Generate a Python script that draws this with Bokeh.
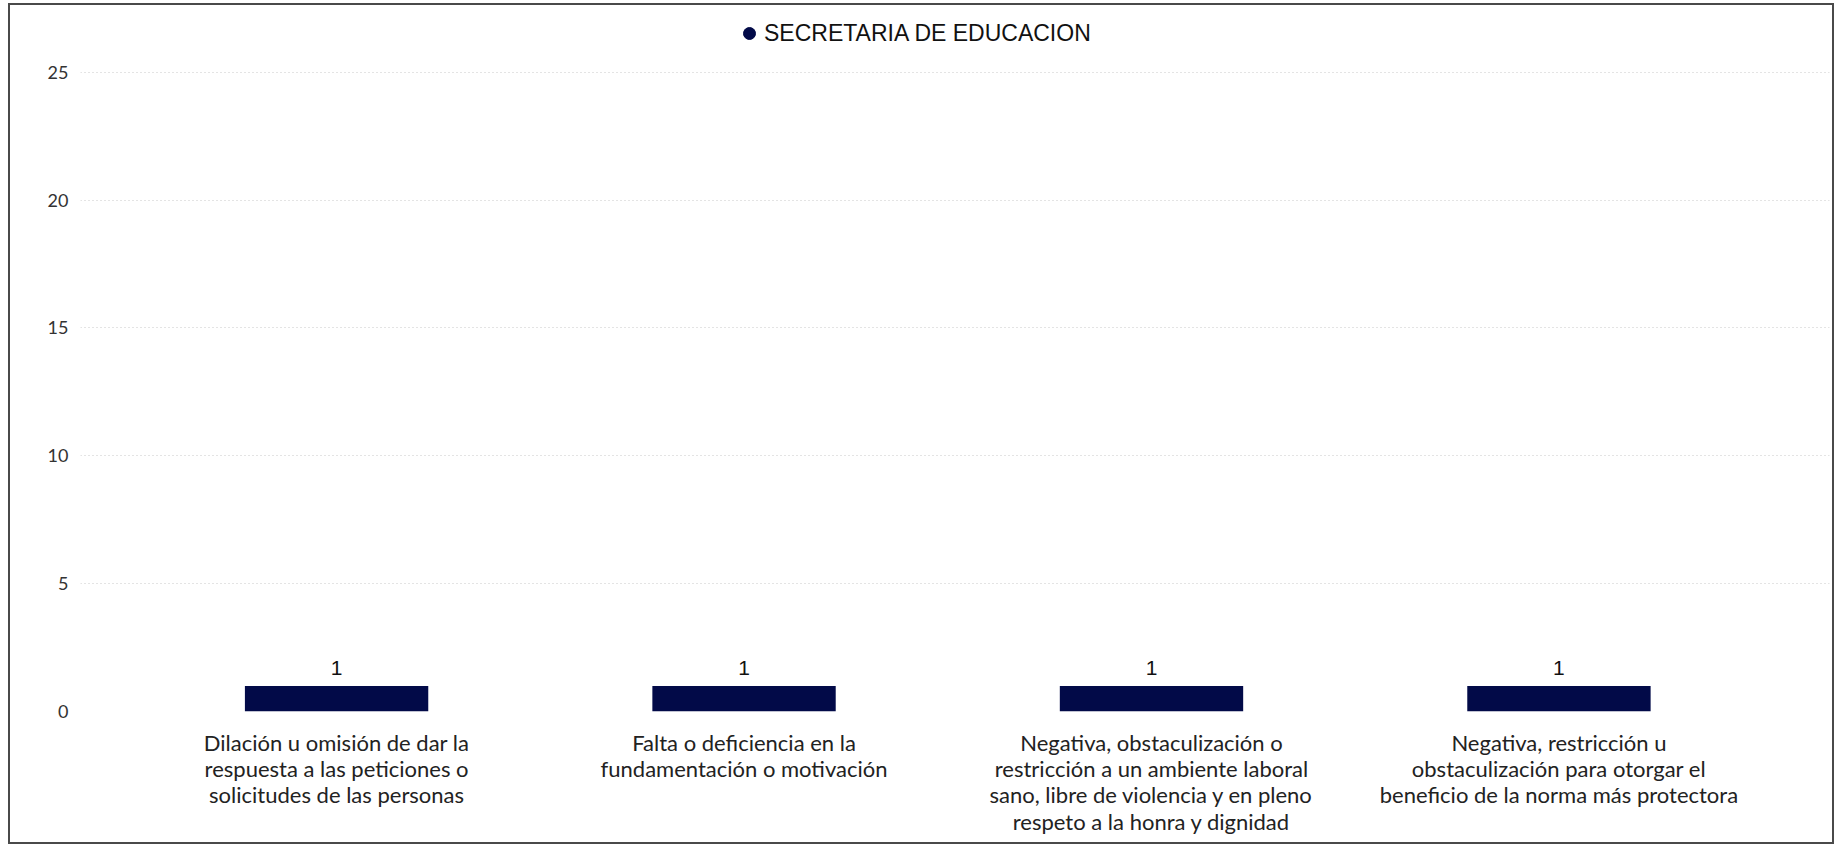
from bokeh.plotting import figure
from bokeh.models import (ColumnDataSource, Range1d, FixedTicker,
                          LabelSet, Legend, LegendItem)
from bokeh.core.properties import value
from bokeh.embed import file_html
from bokeh.resources import INLINE

# ---- data ----
categories = [
    "Dilación u omisión de dar la\nrespuesta a las peticiones o\nsolicitudes de las personas",
    "Falta o deficiencia en la\nfundamentación o motivación",
    "Negativa, obstaculización o\nrestricción a un ambiente laboral\nsano, libre de violencia y en pleno\nrespeto a la honra y dignidad",
    "Negativa, restricción u\nobstaculización para otorgar el\nbeneficio de la norma más protectora",
]
values = [1, 1, 1, 1]
series_name = "SECRETARIA DE EDUCACION"
y_ticks = [0, 5, 10, 15, 20, 25]

BAR = "#020a48"

x_pos = list(range(len(categories)))
src = ColumnDataSource(dict(x=x_pos, val=values, lab=[str(v) for v in values]))

p = figure(
    width=1826, height=841,
    x_range=Range1d(-0.6285, 3.664),
    y_range=Range1d(0, 27.02),
    output_backend="svg", toolbar_location=None,
    min_border_left=70, min_border_right=7, min_border_top=15, min_border_bottom=135,
)
p.styles = {"border": "2px solid #4a4a4a", "margin-left": "8px", "margin-top": "3px"}
p.outline_line_color = None
p.background_fill_color = "white"

p.vbar(x="x", top="val", width=0.45, source=src, fill_color=BAR, line_color=None)

labels = LabelSet(x="x", y="val", text="lab", source=src, text_align="center",
                  text_baseline="alphabetic", y_offset=11,
                  text_font=value("Liberation Sans"),
                  text_font_size=value("21px"), text_color="#111111")
p.add_layout(labels)

# legend (circle marker); the point itself is not drawn (NaN height)
dummy = p.scatter(x=[x_pos[0]], y=[float("nan")], marker="circle", size=14,
                  fill_color=BAR, line_color=BAR)
legend = Legend(items=[LegendItem(label=series_name, renderers=[dummy])],
                location=(654, 663), orientation="horizontal",
                glyph_width=30, glyph_height=30, label_standoff=0,
                padding=0, margin=0, border_line_color=None,
                background_fill_alpha=0,
                label_text_font="Liberation Sans", label_text_font_size="23px",
                label_text_color="#111111")
p.add_layout(legend)

# axes
p.xgrid.grid_line_color = None
p.ygrid.ticker = FixedTicker(ticks=y_ticks)
p.ygrid.grid_line_color = "#c8c8c8"
p.ygrid.grid_line_dash = "1 3"
p.ygrid.grid_line_width = 1

p.yaxis.ticker = FixedTicker(ticks=y_ticks)
p.yaxis.axis_line_color = None
p.yaxis.major_tick_line_color = None
p.yaxis.minor_tick_line_color = None
p.yaxis.major_tick_out = 0
p.yaxis.major_tick_in = 0
p.yaxis.major_label_standoff = 12
p.yaxis.major_label_text_font = "Lato"
p.yaxis.major_label_text_font_size = "18px"
p.yaxis.major_label_text_color = "#333333"

p.xaxis.ticker = FixedTicker(ticks=x_pos)
p.xaxis.major_label_overrides = {i: c for i, c in zip(x_pos, categories)}
p.xaxis.axis_line_color = None
p.xaxis.major_tick_line_color = None
p.xaxis.minor_tick_line_color = None
p.xaxis.major_tick_out = 0
p.xaxis.major_tick_in = 0
p.xaxis.major_label_standoff = 17
p.xaxis.major_label_text_font = "Lato"
p.xaxis.major_label_text_font_size = "22px"
p.xaxis.major_label_text_line_height = 0.98
p.xaxis.major_label_text_color = "#222222"

open("out.html", "w").write(file_html(p, INLINE))
